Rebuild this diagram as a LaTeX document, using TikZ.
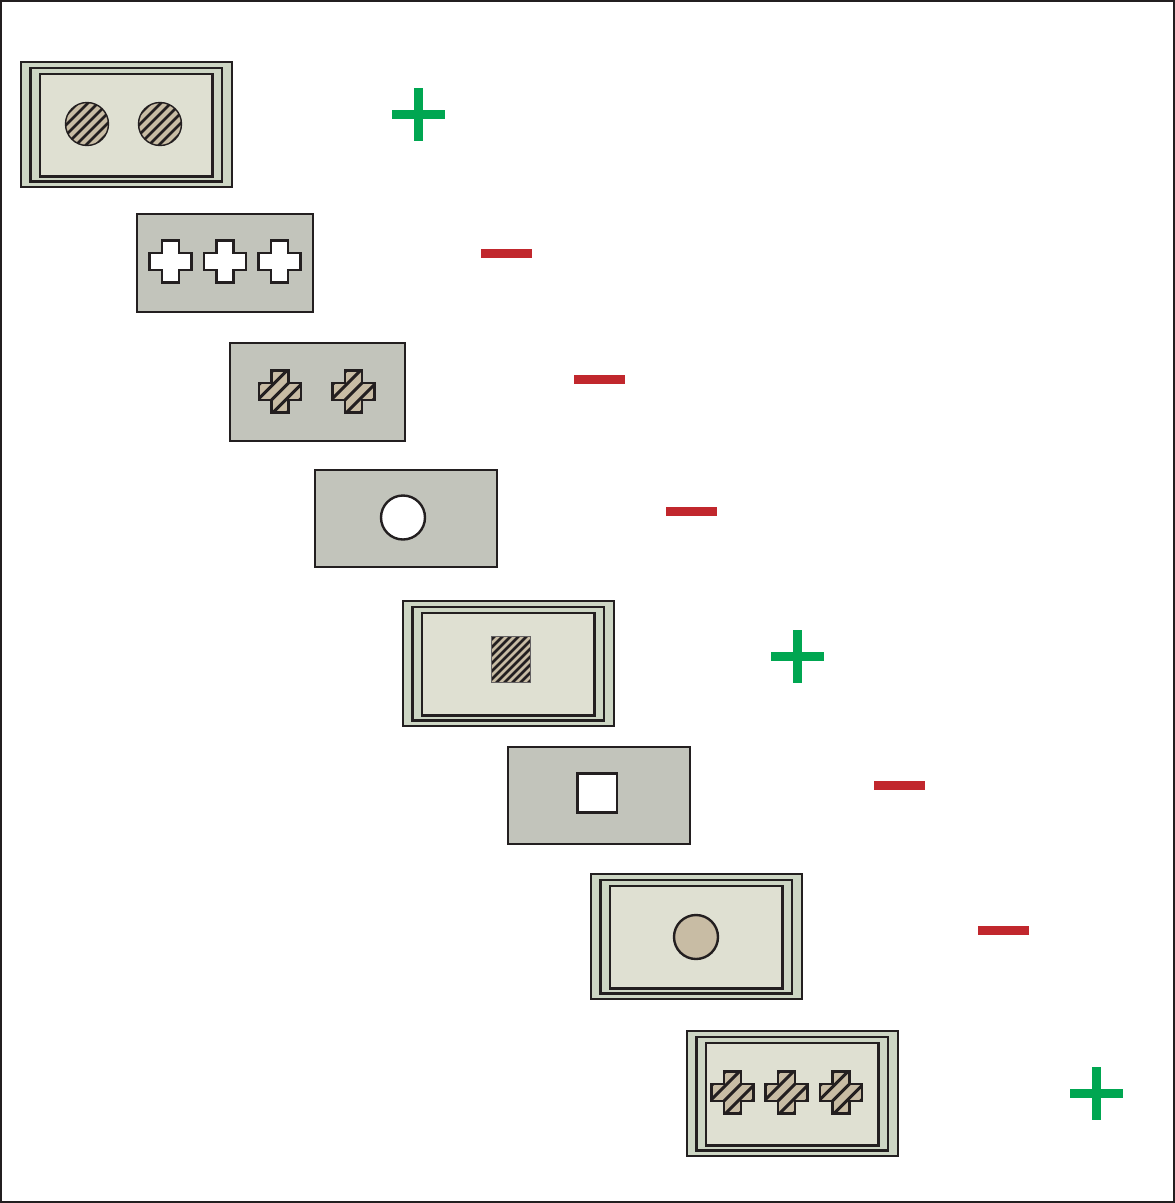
\documentclass[tikz,border=0pt]{standalone}
\usepackage{xcolor}
\definecolor{sage}{HTML}{CDD6C4}
\definecolor{paper}{HTML}{DFE0D2}
\definecolor{cardgray}{HTML}{C2C4BB}
\definecolor{tanfill}{HTML}{C8BCA4}
\definecolor{ink}{HTML}{231F20}
\definecolor{plusgreen}{HTML}{00A651}
\definecolor{minusred}{HTML}{C1272D}
\tikzset{
  cardline/.style={draw=ink, line width=2.2pt, outer sep=0pt},
  innerline/.style={draw=ink, line width=2.6pt},
  markline/.style={draw=ink, line width=2.2pt},
  hatchline/.style={draw=ink, line width=2.2pt},
}
% framed card: name, x, y (top-left outer)
\newcommand\fcard[3]{%
  \node[cardline, fill=sage, minimum width=211pt, minimum height=125pt, anchor=north west, inner sep=0pt] (#1) at (#2+1,#3+1) {};
  \draw[innerline] (#2+10.5,#3+7) rectangle (#2+202,#3+120.5);
  \draw[innerline, fill=paper] (#2+20,#3+13) rectangle (#2+192.5,#3+115.5);
}
% gray card: name, x1, y1, x2, y2 (outer)
\newcommand\gcard[5]{%
  \node[cardline, fill=cardgray, minimum width={#4-#2-2}, minimum height={#5-#3-2}, anchor=north west, inner sep=0pt] (#1) at (#2+1,#3+1) {};
}
\newcommand\wcross[2]{%
  \draw[markline, fill=white] (#1-8.5,#2-21) -- (#1+8.5,#2-21) -- (#1+8.5,#2-8.5) -- (#1+21,#2-8.5) -- (#1+21,#2+8.5) -- (#1+8.5,#2+8.5) -- (#1+8.5,#2+21) -- (#1-8.5,#2+21) -- (#1-8.5,#2+8.5) -- (#1-21,#2+8.5) -- (#1-21,#2-8.5) -- (#1-8.5,#2-8.5) -- cycle;
}
\newcommand\hcross[2]{%
  \begin{scope}
    \clip (#1-8.5,#2-21) -- (#1+8.5,#2-21) -- (#1+8.5,#2-8.5) -- (#1+21,#2-8.5) -- (#1+21,#2+8.5) -- (#1+8.5,#2+8.5) -- (#1+8.5,#2+21) -- (#1-8.5,#2+21) -- (#1-8.5,#2+8.5) -- (#1-21,#2+8.5) -- (#1-21,#2-8.5) -- (#1-8.5,#2-8.5) -- cycle;
    \fill[tanfill] (#1-30,#2-30) rectangle (#1+30,#2+30);
    \foreach \k in {-5,...,5} \draw[hatchline, line width=3pt] ({#1+\k*14-40},#2+40) -- ({#1+\k*14+40},#2-40);
  \end{scope}
  \draw[markline] (#1-8.5,#2-21) -- (#1+8.5,#2-21) -- (#1+8.5,#2-8.5) -- (#1+21,#2-8.5) -- (#1+21,#2+8.5) -- (#1+8.5,#2+8.5) -- (#1+8.5,#2+21) -- (#1-8.5,#2+21) -- (#1-8.5,#2+8.5) -- (#1-21,#2+8.5) -- (#1-21,#2-8.5) -- (#1-8.5,#2-8.5) -- cycle;
}
\newcommand\hcircle[2]{%
  \begin{scope}
    \clip (#1,#2) circle (21.5);
    \fill[tanfill] (#1-30,#2-30) rectangle (#1+30,#2+30);
    \foreach \k in {-7,...,7} \draw[hatchline, line width=2.5pt] ({#1+\k*10-40},#2+40) -- ({#1+\k*10+40},#2-40);
  \end{scope}
  \draw[ink, line width=1.4pt] (#1,#2) circle (21.5);
}
\newcommand\plusmark[3]{%
  \coordinate (#1) at (#2,#3);
  \fill[plusgreen] (#2-26.5,#3-4.5) rectangle (#2+26.5,#3+4.5);
  \fill[plusgreen] (#2-4.5,#3-26.5) rectangle (#2+4.5,#3+26.5);
}
\newcommand\minusmark[3]{%
  \coordinate (#1) at (#2,#3);
  \fill[minusred] (#2-25.5,#3-4.5) rectangle (#2+25.5,#3+4.5);
}
\begin{document}
\begin{tikzpicture}[x=1pt, y=-1pt]
  \useasboundingbox (0,0) rectangle (1175,1203);
  \draw[ink, line width=2pt] (1,1) rectangle (1174,1202);

  % card 1
  \fcard{c1}{20}{61}
  \hcircle{87}{124}
  \hcircle{160}{124}
  \plusmark{p1}{418.5}{114}

  % card 2
  \gcard{c2}{136}{213}{314}{313}
  \wcross{170.5}{261.5}
  \wcross{225}{261.5}
  \wcross{279.5}{261.5}
  \minusmark{m1}{506.5}{253.5}

  % card 3
  \gcard{c3}{229}{342}{406}{442}
  \hcross{280}{391.5}
  \hcross{353.5}{391.5}
  \minusmark{m2}{599.5}{379}

  % card 4
  \gcard{c4}{314}{469}{498}{568}
  \draw[ink, line width=2.4pt, fill=white] (403,517.5) circle (22);
  \minusmark{m3}{691.5}{511.5}

  % card 5
  \fcard{c5}{402}{600}
  \begin{scope}
    \clip (491,636.5) rectangle (530.5,682.5);
    \fill[tanfill] (491,636.5) rectangle (530.5,682.5);
    \foreach \k in {-9,...,9} \draw[hatchline, line width=2.6pt] ({511+\k*8-40},700) -- ({511+\k*8+40},620);
  \end{scope}
  \draw[ink!70, line width=1pt] (491,636.5) rectangle (530.5,682.5);
  \plusmark{p2}{797.5}{656.5}

  % card 6
  \gcard{c6}{507}{746}{691}{845}
  \draw[ink, line width=2.4pt, fill=white] (577.5,773.5) rectangle (617,812.5);
  \minusmark{m4}{899.5}{785.5}

  % card 7
  \fcard{c7}{590}{873}
  \draw[ink, line width=2.4pt, fill=tanfill] (696,937) circle (22);
  \minusmark{m5}{1003.5}{930.5}

  % card 8
  \fcard{c8}{686}{1030}
  \hcross{732.5}{1092.5}
  \hcross{786.5}{1092.5}
  \hcross{841}{1092.5}
  \plusmark{p3}{1096.5}{1093.5}
\end{tikzpicture}
\end{document}
